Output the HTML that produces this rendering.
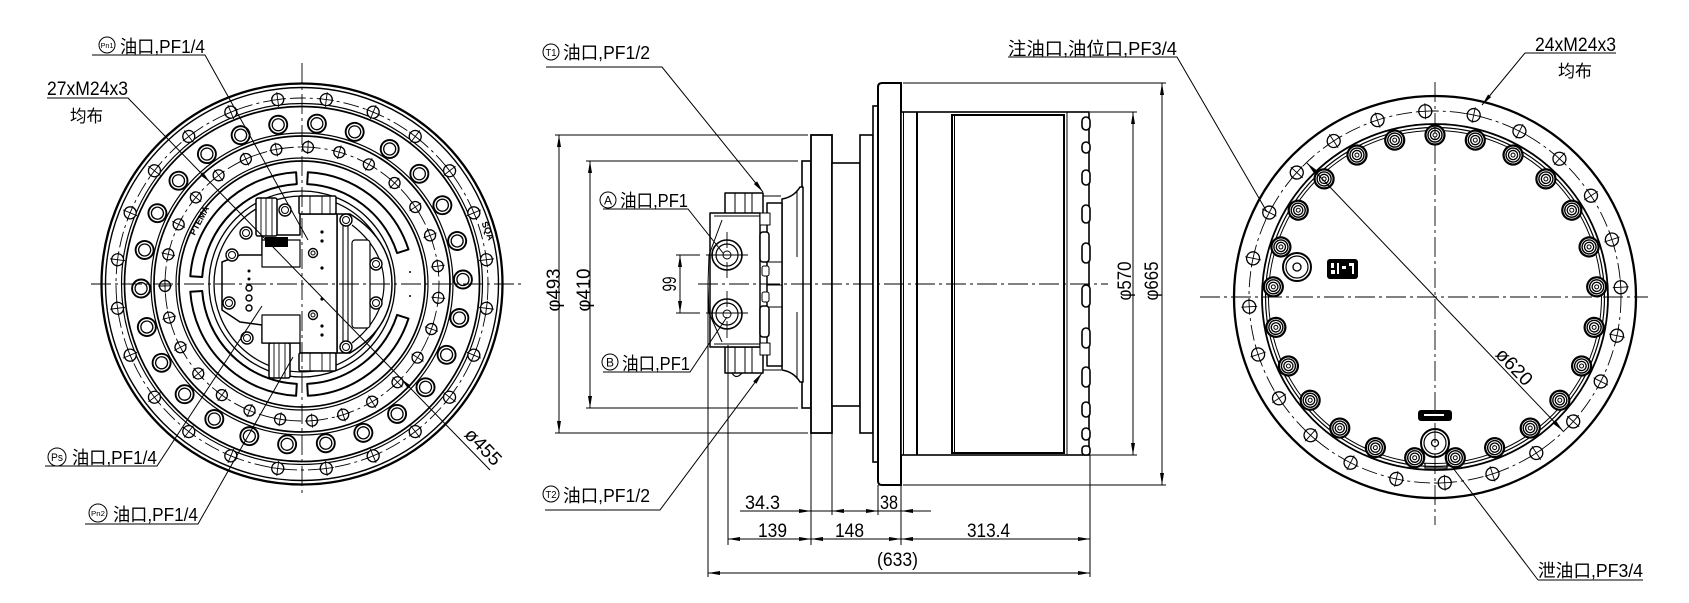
<!DOCTYPE html>
<html><head><meta charset="utf-8"><style>
html,body{margin:0;padding:0;background:#fff;}
svg{display:block;}
text{font-family:"Liberation Sans","Noto Sans CJK SC",sans-serif;fill:#000;}
</style></head><body>
<svg width="1689" height="603" viewBox="0 0 1689 603" xmlns="http://www.w3.org/2000/svg">
<defs>
<g id="lo"><circle cx="302" cy="98" r="6" fill="#fff" stroke="#000" stroke-width="1.3"/><path d="M294.5 98H309.5M302 90.5V105.5" stroke="#000" stroke-width="0.9"/></g>
<g id="lh"><circle cx="302" cy="123" r="9" fill="#fff" stroke="#000" stroke-width="1.9"/><circle cx="302" cy="123" r="6" fill="none" stroke="#000" stroke-width="1.3"/></g>
<g id="li"><circle cx="302" cy="147" r="5.5" fill="#fff" stroke="#000" stroke-width="1.3"/><path d="M295 147H309M302 140V154" stroke="#000" stroke-width="0.9"/></g>
<g id="ro"><circle cx="1435" cy="111" r="6.5" fill="#fff" stroke="#000" stroke-width="1.3"/><path d="M1427 111H1443M1435 103V119" stroke="#000" stroke-width="0.9"/></g>
<g id="rb"><circle cx="1435" cy="135" r="9.5" fill="#fff" stroke="#000" stroke-width="2.2"/><circle cx="1435" cy="135" r="7" fill="none" stroke="#000" stroke-width="1.4"/><circle cx="1435" cy="135" r="4.6" fill="none" stroke="#000" stroke-width="1.3"/><circle cx="1435" cy="135" r="2" fill="none" stroke="#000" stroke-width="1"/></g>
</defs>
<rect width="1689" height="603" fill="#fff"/>

<!-- ================= LEFT VIEW ================= -->
<g fill="none" stroke="#000">
<circle cx="302" cy="284" r="200.5" stroke-width="2.3"/>
<circle cx="302" cy="284" r="196.5" stroke-width="1.4"/>
<circle cx="302" cy="284" r="186" stroke-width="0.9" stroke-dasharray="16 4 3 4"/>
<circle cx="302" cy="284" r="180.5" stroke-width="1.2"/>
<circle cx="302" cy="284" r="177.5" stroke-width="1.7"/>
<circle cx="302" cy="284" r="151" stroke-width="1.2"/>
<circle cx="302" cy="284" r="148" stroke-width="1.7"/>
<circle cx="302" cy="284" r="137" stroke-width="0.9" stroke-dasharray="16 4 3 4"/>
<circle cx="302" cy="284" r="126" stroke-width="1.2"/>
<circle cx="302" cy="284" r="123" stroke-width="1.7"/>
<circle cx="302" cy="284" r="93" stroke-width="1.3"/>
<circle cx="302" cy="284" r="88" stroke-width="1.3"/>
</g>
<g fill="#fff" stroke="#000" stroke-width="2" stroke-linejoin="round">
<path d="M190.3,276.2 A112,112 0 0 1 296.1,172.2 L296.8,184.1 A100,100 0 0 0 202.2,277.0 Z"/>
<path d="M307.9,172.2 A112,112 0 0 1 408.5,249.4 L397.1,253.1 A100,100 0 0 0 307.2,184.1 Z"/>
<path d="M408.5,318.6 A112,112 0 0 1 307.9,395.8 L307.2,383.9 A100,100 0 0 0 397.1,314.9 Z"/>
<path d="M296.1,395.8 A112,112 0 0 1 190.3,291.8 L202.2,291.0 A100,100 0 0 0 296.8,383.9 Z"/>
</g>
<g>
<use href="#lo" transform="rotate(7.5 302 284)"/><use href="#lo" transform="rotate(22.5 302 284)"/><use href="#lo" transform="rotate(37.5 302 284)"/><use href="#lo" transform="rotate(52.5 302 284)"/><use href="#lo" transform="rotate(67.5 302 284)"/><use href="#lo" transform="rotate(82.5 302 284)"/><use href="#lo" transform="rotate(97.5 302 284)"/><use href="#lo" transform="rotate(112.5 302 284)"/><use href="#lo" transform="rotate(127.5 302 284)"/><use href="#lo" transform="rotate(142.5 302 284)"/><use href="#lo" transform="rotate(157.5 302 284)"/><use href="#lo" transform="rotate(172.5 302 284)"/><use href="#lo" transform="rotate(187.5 302 284)"/><use href="#lo" transform="rotate(202.5 302 284)"/><use href="#lo" transform="rotate(217.5 302 284)"/><use href="#lo" transform="rotate(232.5 302 284)"/><use href="#lo" transform="rotate(247.5 302 284)"/><use href="#lo" transform="rotate(262.5 302 284)"/><use href="#lo" transform="rotate(277.5 302 284)"/><use href="#lo" transform="rotate(292.5 302 284)"/><use href="#lo" transform="rotate(307.5 302 284)"/><use href="#lo" transform="rotate(322.5 302 284)"/><use href="#lo" transform="rotate(337.5 302 284)"/><use href="#lo" transform="rotate(352.5 302 284)"/>
<use href="#lh" transform="rotate(5.3 302 284)"/><use href="#lh" transform="rotate(19.1 302 284)"/><use href="#lh" transform="rotate(33 302 284)"/><use href="#lh" transform="rotate(46.8 302 284)"/><use href="#lh" transform="rotate(60.7 302 284)"/><use href="#lh" transform="rotate(74.5 302 284)"/><use href="#lh" transform="rotate(88.4 302 284)"/><use href="#lh" transform="rotate(102.2 302 284)"/><use href="#lh" transform="rotate(116.1 302 284)"/><use href="#lh" transform="rotate(129.9 302 284)"/><use href="#lh" transform="rotate(143.8 302 284)"/><use href="#lh" transform="rotate(157.6 302 284)"/><use href="#lh" transform="rotate(171.5 302 284)"/><use href="#lh" transform="rotate(185.3 302 284)"/><use href="#lh" transform="rotate(199.1 302 284)"/><use href="#lh" transform="rotate(213 302 284)"/><use href="#lh" transform="rotate(226.8 302 284)"/><use href="#lh" transform="rotate(240.7 302 284)"/><use href="#lh" transform="rotate(254.5 302 284)"/><use href="#lh" transform="rotate(268.4 302 284)"/><use href="#lh" transform="rotate(282.2 302 284)"/><use href="#lh" transform="rotate(296.1 302 284)"/><use href="#lh" transform="rotate(309.9 302 284)"/><use href="#lh" transform="rotate(323.8 302 284)"/><use href="#lh" transform="rotate(337.6 302 284)"/><use href="#lh" transform="rotate(351.5 302 284)"/>
<use href="#li" transform="rotate(2.5 302 284)"/><use href="#li" transform="rotate(15.8 302 284)"/><use href="#li" transform="rotate(29.2 302 284)"/><use href="#li" transform="rotate(42.5 302 284)"/><use href="#li" transform="rotate(55.8 302 284)"/><use href="#li" transform="rotate(69.2 302 284)"/><use href="#li" transform="rotate(82.5 302 284)"/><use href="#li" transform="rotate(95.8 302 284)"/><use href="#li" transform="rotate(109.2 302 284)"/><use href="#li" transform="rotate(122.5 302 284)"/><use href="#li" transform="rotate(135.8 302 284)"/><use href="#li" transform="rotate(149.2 302 284)"/><use href="#li" transform="rotate(162.5 302 284)"/><use href="#li" transform="rotate(175.8 302 284)"/><use href="#li" transform="rotate(189.2 302 284)"/><use href="#li" transform="rotate(202.5 302 284)"/><use href="#li" transform="rotate(215.8 302 284)"/><use href="#li" transform="rotate(229.2 302 284)"/><use href="#li" transform="rotate(242.5 302 284)"/><use href="#li" transform="rotate(255.8 302 284)"/><use href="#li" transform="rotate(269.2 302 284)"/><use href="#li" transform="rotate(282.5 302 284)"/><use href="#li" transform="rotate(295.8 302 284)"/><use href="#li" transform="rotate(309.2 302 284)"/><use href="#li" transform="rotate(322.5 302 284)"/><use href="#li" transform="rotate(335.8 302 284)"/><use href="#li" transform="rotate(349.2 302 284)"/>
</g>
<!-- motor in left view -->
<g fill="#fff" stroke="#000" stroke-width="1.5" stroke-linejoin="round">
<path d="M337,214 L350,214 Q392,240 392,284 Q392,328 350,353 L337,353 Z"/>
<path d="M352,225 Q384,250 384,284 Q384,318 352,343" fill="none" stroke-width="1.2"/>
<rect x="352" y="240" width="18" height="88" rx="3" stroke-width="1.2"/>
<path d="M222,262 L240,255 L262,255 L262,235 L300,235 L300,214 L337,214 L337,353 L300,353 L300,343 L262,343 L262,325 L240,322 L222,310 Z"/>
<path d="M343,214 V353 M348,214 V353" fill="none" stroke-width="1.1"/>
<rect x="256" y="198" width="21" height="38" rx="2"/>
<path d="M261,198 V236 M266,198 V236 M272,198 V236" fill="none" stroke-width="0.9"/>
<rect x="299" y="196" width="37" height="18" rx="1.5"/>
<path d="M310,196 V214 M322,196 V214 M330,196 V214" fill="none" stroke-width="0.9"/>
<rect x="269" y="343" width="21" height="35" rx="2"/>
<path d="M274,343 V378 M279,343 V378 M285,343 V378" fill="none" stroke-width="0.9"/>
<rect x="299" y="353" width="37" height="18" rx="1.5"/>
<path d="M310,353 V371 M322,353 V371 M330,353 V371" fill="none" stroke-width="0.9"/>
<rect x="262" y="315" width="38" height="28" stroke-width="1.2"/>
<rect x="262" y="240" width="38" height="27" stroke-width="1.2"/>
</g>
<rect x="265" y="237" width="23" height="10" fill="#000"/>
<g fill="#fff" stroke="#000" stroke-width="1.4">
<circle cx="285" cy="210" r="6"/><circle cx="346" cy="220" r="6"/><circle cx="246" cy="233" r="6"/><circle cx="232" cy="255" r="6"/><circle cx="376" cy="264" r="6"/><circle cx="229" cy="303" r="6"/><circle cx="376" cy="303" r="6"/><circle cx="247" cy="338" r="6"/><circle cx="346" cy="347" r="6"/>
<circle cx="313" cy="253" r="4.5"/><circle cx="313" cy="315" r="4.5"/>
<circle cx="249" cy="288" r="3"/><circle cx="249" cy="298" r="3"/><circle cx="249" cy="308" r="3"/>
</g>
<g fill="none" stroke="#000" stroke-width="1"><circle cx="285" cy="210" r="3.5"/><circle cx="346" cy="220" r="3.5"/><circle cx="246" cy="233" r="3.5"/><circle cx="232" cy="255" r="3.5"/><circle cx="376" cy="264" r="3.5"/><circle cx="229" cy="303" r="3.5"/><circle cx="376" cy="303" r="3.5"/><circle cx="247" cy="338" r="3.5"/><circle cx="346" cy="347" r="3.5"/><circle cx="313" cy="253" r="2"/><circle cx="313" cy="315" r="2"/></g>
<g fill="#000"><circle cx="322" cy="232" r="1.6"/><circle cx="322" cy="241" r="1.6"/><circle cx="322" cy="268" r="1.6"/><circle cx="322" cy="299" r="1.6"/><circle cx="322" cy="326" r="1.6"/><circle cx="322" cy="335" r="1.6"/><circle cx="249" cy="271" r="1.5"/><circle cx="249" cy="279" r="1.5"/><circle cx="410" cy="272" r="1"/><circle cx="410" cy="296" r="1"/></g>
<text transform="translate(202,222) rotate(-62)" font-size="9" font-weight="bold" text-anchor="middle">PTEMA</text>
<text transform="translate(485,232) rotate(68)" font-size="9" font-weight="bold" text-anchor="middle">SQA</text>
<!-- left centerlines -->
<g stroke="#000" stroke-width="0.9" stroke-dasharray="20 4 3 4" fill="none">
<path d="M91,284 H522"/><path d="M302,63 V497"/>
</g>

<!-- ================= MIDDLE VIEW ================= -->
<g fill="#fff" stroke="#000" stroke-width="1.6">
<rect x="802" y="161" width="9" height="247"/>
<rect x="811" y="135" width="21" height="298" stroke-width="1.8"/>
<rect x="832" y="163" width="28" height="243"/>
<rect x="860" y="135" width="13" height="298"/>
<rect x="873" y="106" width="5" height="356"/>
<path d="M882,83 L901,83 L901,485 L882,485 Q878,485 878,481 L878,87 Q878,83 882,83Z" stroke-width="2"/>
<rect x="901" y="112" width="188" height="343"/>
</g>
<g fill="none" stroke="#000">
<path d="M903.5,112 V455" stroke-width="1"/>
<path d="M917,112 V455" stroke-width="2"/>
<rect x="952" y="115" width="112" height="338" stroke-width="2"/>
<path d="M954.5,115 V453 M1067,112 V455" stroke-width="1"/>
</g>
<g fill="#fff" stroke="#000" stroke-width="1.6">
<rect x="1082" y="117" width="8" height="13" rx="4"/>
<rect x="1082" y="142" width="8" height="11" rx="4"/>
<rect x="1082" y="170" width="8" height="15" rx="4"/>
<rect x="1082" y="205" width="8" height="18" rx="4"/>
<rect x="1082" y="243" width="8" height="20" rx="4"/>
<rect x="1082" y="285" width="8" height="22" rx="4"/>
<rect x="1082" y="328" width="8" height="20" rx="4"/>
<rect x="1082" y="367" width="8" height="20" rx="4"/>
<rect x="1082" y="402" width="8" height="15" rx="4"/>
<rect x="1082" y="428" width="8" height="12" rx="4"/>
<rect x="1082" y="446" width="8" height="9" rx="3"/>
</g>
<!-- valve block -->
<g fill="#fff" stroke="#000" stroke-width="1.5" stroke-linejoin="round">
<path d="M782,199 Q794,197 800,187 L803,187 L803,382 L800,382 Q794,372 782,370 Z"/>
<path d="M797,190 V257 M797,312 V379" fill="none" stroke-width="1"/>
<rect x="767" y="203" width="15" height="163"/>
<path d="M767,262 H782 M767,285 H782 M767,307 H782" fill="none" stroke-width="1"/>
<rect x="725" y="193" width="38" height="22"/>
<path d="M735,193 V215 M745,193 V215 M752,193 V215 M763,196 H781" fill="none" stroke-width="1"/>
<rect x="725" y="347" width="38" height="26"/>
<path d="M735,347 V373 M745,347 V373 M752,347 V373 M763,370 H781" fill="none" stroke-width="1"/>
<path d="M732,373 Q736,380 742,373" fill="none" stroke-width="1.2"/>
<rect x="710" y="213" width="50" height="134"/>
<path d="M722,220 L709,255 L708,284 L709,313 L722,342 M714,216 L760,216 M714,344 L760,344" fill="none" stroke-width="1"/>
<rect x="760" y="232" width="9" height="30" rx="3"/>
<rect x="760" y="306" width="9" height="31" rx="3"/>
<rect x="762" y="266" width="7" height="10" rx="2" stroke-width="1"/>
<rect x="762" y="292" width="7" height="10" rx="2" stroke-width="1"/>
<rect x="760" y="213" width="10" height="12" stroke-width="1"/>
<rect x="760" y="343" width="10" height="12" stroke-width="1"/>
</g>
<g fill="none" stroke="#000">
<circle cx="727" cy="255" r="15" stroke-width="1.6"/><circle cx="727" cy="255" r="11" stroke-width="1.2"/><circle cx="727" cy="255" r="4" stroke-width="1"/>
<circle cx="727" cy="314" r="15" stroke-width="1.6"/><circle cx="727" cy="314" r="11" stroke-width="1.2"/><circle cx="727" cy="314" r="4" stroke-width="1"/>
</g>
<g stroke="#000" stroke-width="0.9" fill="none">
<path d="M698,284 H1108" stroke-dasharray="20 4 3 4"/>
<path d="M676,255 H700 M706,255 H748 M676,313 H700 M706,313 H748" />
<path d="M727,232 V248 M727,262 V278 M727,291 V307 M727,321 V338"/>
</g>
<!-- dims middle -->
<g stroke="#000" stroke-width="1" fill="none">
<path d="M555,135 H808 M555,433 H808 M559,135 V433"/>
<path d="M586,161 H798 M586,408 H798 M590,161 V408"/>
<path d="M680,255 V313"/>
<path d="M1090,112 H1137 M1090,455 H1137 M1133,112 V455"/>
<path d="M903,83 H1166 M903,485 H1166 M1162,83 V485"/>
<path d="M708,283 V577 M728,345 V545 M811,433 V545 M832,433 V515 M878,485 V515 M901,485 V545 M1090,455 V577"/>
<path d="M740,511 H931 M728,539 H1090 M708,573 H1090"/>
</g>
<g fill="#000">
<path d="M559,135 L557,147 L561,147Z M559,433 L557,421 L561,421Z"/>
<path d="M590,161 L588,173 L592,173Z M590,408 L588,396 L592,396Z"/>
<path d="M680,255 L678,267 L682,267Z M680,313 L678,301 L682,301Z"/>
<path d="M1133,112 L1131,124 L1135,124Z M1133,455 L1131,443 L1135,443Z"/>
<path d="M1162,83 L1160,95 L1164,95Z M1162,485 L1160,473 L1164,473Z"/>
<path d="M811,511 L799,509 L799,513Z M832,511 L844,509 L844,513Z M878,511 L866,509 L866,513Z M901,511 L913,509 L913,513Z"/>
<path d="M728,539 L740,537 L740,541Z M811,539 L799,537 L799,541Z M811,539 L823,537 L823,541Z M901,539 L889,537 L889,541Z M901,539 L913,537 L913,541Z M1090,539 L1078,537 L1078,541Z"/>
<path d="M708,573 L720,571 L720,575Z M1090,573 L1078,571 L1078,575Z"/>
</g>
<g font-size="19">
<text transform="translate(560,290) rotate(-90)" text-anchor="middle" textLength="43" lengthAdjust="spacingAndGlyphs">φ493</text>
<text transform="translate(590,290) rotate(-90)" text-anchor="middle" textLength="43" lengthAdjust="spacingAndGlyphs">φ410</text>
<text transform="translate(676,284) rotate(-90)" text-anchor="middle" textLength="15" lengthAdjust="spacingAndGlyphs">99</text>
<text transform="translate(1131,281) rotate(-90)" text-anchor="middle" textLength="39" lengthAdjust="spacingAndGlyphs">φ570</text>
<text transform="translate(1158,281) rotate(-90)" text-anchor="middle" textLength="39" lengthAdjust="spacingAndGlyphs">φ665</text>
<text x="745" y="509" textLength="35" lengthAdjust="spacingAndGlyphs">34.3</text>
<text x="880" y="509" textLength="18" lengthAdjust="spacingAndGlyphs">38</text>
<text x="758" y="537" textLength="29" lengthAdjust="spacingAndGlyphs">139</text>
<text x="835" y="537" textLength="29" lengthAdjust="spacingAndGlyphs">148</text>
<text x="967" y="537" textLength="43" lengthAdjust="spacingAndGlyphs">313.4</text>
<text x="877" y="566" textLength="41" lengthAdjust="spacingAndGlyphs">(633)</text>
</g>

<!-- ================= RIGHT VIEW ================= -->
<g fill="none" stroke="#000">
<circle cx="1435" cy="297" r="201" stroke-width="2.3"/>
<circle cx="1435" cy="297" r="186" stroke-width="0.9" stroke-dasharray="16 4 3 4"/>
<circle cx="1435" cy="297" r="173" stroke-width="1.8"/>
<circle cx="1435" cy="297" r="169.5" stroke-width="1.2"/>
<circle cx="1435" cy="297" r="166.5" stroke-width="1"/>
</g>
<g>
<use href="#ro" transform="rotate(-3 1435 297)"/><use href="#ro" transform="rotate(12 1435 297)"/><use href="#ro" transform="rotate(27 1435 297)"/><use href="#ro" transform="rotate(42 1435 297)"/><use href="#ro" transform="rotate(57 1435 297)"/><use href="#ro" transform="rotate(72 1435 297)"/><use href="#ro" transform="rotate(87 1435 297)"/><use href="#ro" transform="rotate(102 1435 297)"/><use href="#ro" transform="rotate(117 1435 297)"/><use href="#ro" transform="rotate(132 1435 297)"/><use href="#ro" transform="rotate(147 1435 297)"/><use href="#ro" transform="rotate(162 1435 297)"/><use href="#ro" transform="rotate(177 1435 297)"/><use href="#ro" transform="rotate(192 1435 297)"/><use href="#ro" transform="rotate(207 1435 297)"/><use href="#ro" transform="rotate(222 1435 297)"/><use href="#ro" transform="rotate(237 1435 297)"/><use href="#ro" transform="rotate(252 1435 297)"/><use href="#ro" transform="rotate(267 1435 297)"/><use href="#ro" transform="rotate(282 1435 297)"/><use href="#ro" transform="rotate(297 1435 297)"/><use href="#ro" transform="rotate(312 1435 297)"/><use href="#ro" transform="rotate(327 1435 297)"/><use href="#ro" transform="rotate(342 1435 297)"/>
<use href="#rb"/><use href="#rb" transform="rotate(14.4 1435 297)"/><use href="#rb" transform="rotate(28.8 1435 297)"/><use href="#rb" transform="rotate(43.2 1435 297)"/><use href="#rb" transform="rotate(57.6 1435 297)"/><use href="#rb" transform="rotate(72 1435 297)"/><use href="#rb" transform="rotate(86.4 1435 297)"/><use href="#rb" transform="rotate(100.8 1435 297)"/><use href="#rb" transform="rotate(115.2 1435 297)"/><use href="#rb" transform="rotate(129.6 1435 297)"/><use href="#rb" transform="rotate(144 1435 297)"/><use href="#rb" transform="rotate(158.4 1435 297)"/><use href="#rb" transform="rotate(172.8 1435 297)"/><use href="#rb" transform="rotate(187.2 1435 297)"/><use href="#rb" transform="rotate(201.6 1435 297)"/><use href="#rb" transform="rotate(216 1435 297)"/><use href="#rb" transform="rotate(230.4 1435 297)"/><use href="#rb" transform="rotate(244.8 1435 297)"/><use href="#rb" transform="rotate(259.2 1435 297)"/><use href="#rb" transform="rotate(273.6 1435 297)"/><use href="#rb" transform="rotate(288 1435 297)"/><use href="#rb" transform="rotate(302.4 1435 297)"/><use href="#rb" transform="rotate(316.8 1435 297)"/><use href="#rb" transform="rotate(331.2 1435 297)"/><use href="#rb" transform="rotate(345.6 1435 297)"/>
</g>
<g fill="none" stroke="#000">
<circle cx="1297" cy="267" r="14" stroke-width="2"/><circle cx="1297" cy="267" r="11" stroke-width="1.2"/><circle cx="1297" cy="267" r="4" stroke-width="1.3"/>
<circle cx="1435" cy="443" r="14" stroke-width="2"/><circle cx="1435" cy="443" r="11" stroke-width="1.2"/><circle cx="1435" cy="443" r="3.5" stroke-width="1.3"/>
<path d="M1425,463 L1425,468 L1447,468 L1447,463" stroke-width="1.2"/>
</g>
<rect x="1327" y="259" width="31" height="20" rx="3" fill="#000"/>
<path d="M1331,263 h3 v5 h-3z M1337,263 h2 v11 h-2z M1342,266 h4 v3 h-4z M1349,263 h5 v3 h-5z M1352,266 h2 v8 h-2z M1331,270 h4 v4 h-4z" fill="#fff"/>
<rect x="1418" y="410" width="34" height="11" rx="3" fill="#000"/>
<path d="M1424,414 h20 v2 h-20z" fill="#fff"/>
<g stroke="#000" stroke-width="0.9" stroke-dasharray="20 4 3 4" fill="none">
<path d="M1200,297 H1648"/><path d="M1435,82 V525"/>
</g>
<path d="M1307,163 L1563,431" stroke="#000" stroke-width="1"/>
<path d="M1307,163 L1316.7,170.3 L1313.9,173.1Z M1563,431 L1556.1,420.9 L1553.3,423.7Z" fill="#000"/>
<text transform="translate(1514,367) rotate(46.3)" font-size="19" text-anchor="middle" y="6" textLength="44" lengthAdjust="spacingAndGlyphs">ø620</text>

<!-- ================= LEADERS & LABELS ================= -->
<g stroke="#000" stroke-width="1" fill="none">
<path d="M92,55 H205 L308,240"/>
<path d="M47,98 H128 L490,470"/>
<path d="M45,466 H157 L262,306"/>
<path d="M85,524 H198 L293,357"/>
<path d="M546,67 H662 L763,192"/>
<path d="M603,209 H688 L723,253"/>
<path d="M603,372 H690 L727,317"/>
<path d="M545,510 H660 L762,373"/>
<path d="M1008,57 H1177 L1267,212"/>
<path d="M1525,53 H1616 M1525,53 L1482,105"/>
<path d="M1538,580 H1643 M1538,580 L1453,468"/>
</g>
<g fill="#000">
<path d="M210,182.3 L203,172.3 L200.2,175.1Z"/>
<path d="M401,378.6 L410.8,385.8 L408,388.6Z"/>
<path d="M763,192 L757.1,181.4 L753.9,184Z"/>
<path d="M762,373 L756.4,383.8 L753.2,381.4Z"/>
<path d="M1482,105 L1491.1,97.1 L1488.1,94.5Z"/>
</g>
<text transform="translate(483,447) rotate(45.8)" font-size="19" text-anchor="middle" y="6" textLength="44" lengthAdjust="spacingAndGlyphs">ø455</text>

<g fill="none" stroke="#000" stroke-width="1">
<circle cx="107" cy="45" r="8"/><circle cx="57" cy="457" r="9"/><circle cx="98" cy="513" r="9"/>
<circle cx="551" cy="52" r="8"/><circle cx="608" cy="200" r="8"/><circle cx="610" cy="362" r="8"/><circle cx="551" cy="494" r="8"/>
</g>
<g text-anchor="middle">
<text x="107" y="48" font-size="7.5" textLength="13" lengthAdjust="spacingAndGlyphs">Pn1</text>
<text x="57" y="461" font-size="11" textLength="12" lengthAdjust="spacingAndGlyphs">Ps</text>
<text x="98" y="516" font-size="7.5" textLength="14" lengthAdjust="spacingAndGlyphs">Pn2</text>
<text x="551" y="56" font-size="10" textLength="11" lengthAdjust="spacingAndGlyphs">T1</text>
<text x="608" y="204.5" font-size="12">A</text>
<text x="610" y="366.5" font-size="12">B</text>
<text x="551" y="498" font-size="10" textLength="11" lengthAdjust="spacingAndGlyphs">T2</text>
</g>
<g font-size="18">
<text x="120" y="53" textLength="85" lengthAdjust="spacingAndGlyphs">油口,PF1/4</text>
<text x="47" y="95" font-size="19" textLength="81" lengthAdjust="spacingAndGlyphs">27xM24x3</text>
<text x="70" y="122" font-size="17" textLength="33" lengthAdjust="spacingAndGlyphs">均布</text>
<text x="72" y="464" textLength="85" lengthAdjust="spacingAndGlyphs">油口,PF1/4</text>
<text x="113" y="521" textLength="85" lengthAdjust="spacingAndGlyphs">油口,PF1/4</text>
<text x="563" y="59" textLength="87" lengthAdjust="spacingAndGlyphs">油口,PF1/2</text>
<text x="620" y="207" textLength="68" lengthAdjust="spacingAndGlyphs">油口,PF1</text>
<text x="622" y="370" textLength="68" lengthAdjust="spacingAndGlyphs">油口,PF1</text>
<text x="563" y="502" textLength="87" lengthAdjust="spacingAndGlyphs">油口,PF1/2</text>
<text x="1008" y="55" textLength="169" lengthAdjust="spacingAndGlyphs">注油口,油位口,PF3/4</text>
<text x="1535" y="51" font-size="19" textLength="81" lengthAdjust="spacingAndGlyphs">24xM24x3</text>
<text x="1558" y="77" font-size="17" textLength="34" lengthAdjust="spacingAndGlyphs">均布</text>
<text x="1538" y="577" textLength="105" lengthAdjust="spacingAndGlyphs">泄油口,PF3/4</text>
</g>
</svg>
</body></html>
